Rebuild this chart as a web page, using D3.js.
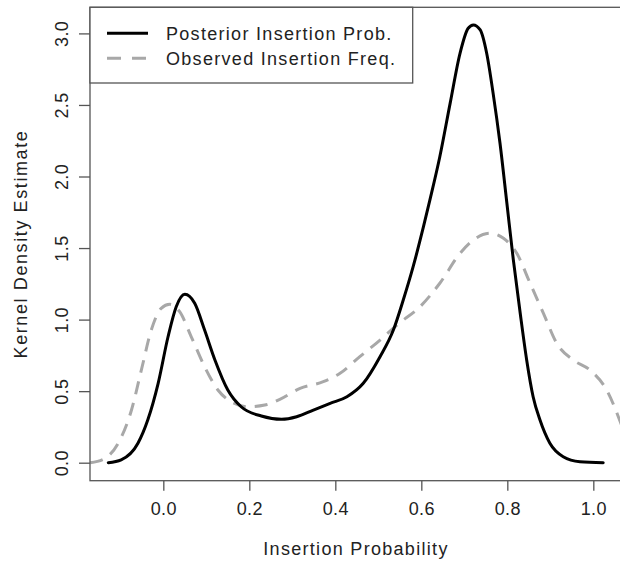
<!DOCTYPE html>
<html>
<head>
<meta charset="utf-8">
<script src="https://cdn.jsdelivr.net/npm/d3@7"></script>
<style>
  html, body { margin: 0; padding: 0; background: #fff; }
  svg { display: block; }
  text { font-family: "Liberation Sans", Arial, Helvetica, sans-serif; }
</style>
</head>
<body>
<svg id="chart" width="620" height="563"></svg>
<script>
// ---- data ----
const seriesNames = ["Posterior Insertion Prob.", "Observed Insertion Freq."];

const posteriorX = [-0.128, -0.098, -0.059, -0.036, -0.012, 0.011, 0.030, 0.050, 0.073, 0.096, 0.120, 0.150, 0.181, 0.228, 0.275, 0.310, 0.349, 0.388, 0.427, 0.465, 0.504, 0.535, 0.558, 0.581, 0.605, 0.620, 0.643, 0.667, 0.690, 0.709, 0.721, 0.737, 0.752, 0.767, 0.783, 0.799, 0.814, 0.830, 0.845, 0.860, 0.876, 0.899, 0.930, 0.969, 1.023];
const posteriorY = [0.000, 0.020, 0.136, 0.300, 0.555, 0.880, 1.090, 1.177, 1.114, 0.927, 0.718, 0.508, 0.391, 0.326, 0.303, 0.321, 0.368, 0.415, 0.461, 0.555, 0.741, 0.927, 1.137, 1.370, 1.649, 1.836, 2.138, 2.511, 2.861, 3.036, 3.059, 3.024, 2.861, 2.581, 2.232, 1.813, 1.417, 1.044, 0.718, 0.461, 0.298, 0.136, 0.042, 0.007, 0.000];

const observedX = [-0.170, -0.136, -0.105, -0.074, -0.051, -0.028, -0.005, 0.015, 0.038, 0.065, 0.096, 0.127, 0.158, 0.197, 0.236, 0.271, 0.318, 0.372, 0.411, 0.457, 0.504, 0.543, 0.597, 0.643, 0.690, 0.721, 0.760, 0.791, 0.822, 0.853, 0.884, 0.915, 0.953, 0.992, 1.031, 1.066];
const observedY = [0.000, 0.030, 0.136, 0.368, 0.648, 0.927, 1.079, 1.107, 1.055, 0.880, 0.671, 0.508, 0.426, 0.391, 0.403, 0.443, 0.520, 0.566, 0.625, 0.741, 0.857, 0.962, 1.090, 1.254, 1.463, 1.556, 1.603, 1.568, 1.463, 1.254, 1.044, 0.834, 0.718, 0.648, 0.508, 0.260];

const xTicks = [0.0, 0.2, 0.4, 0.6, 0.8, 1.0];
const yTicks = [0.0, 0.5, 1.0, 1.5, 2.0, 2.5, 3.0];
const xTitle = "Insertion Probability";
const yTitle = "Kernel Density Estimate";

// ---- layout ----
const plotLeft = 90, plotRight = 622, plotTop = 7.3, plotBottom = 480.7;
const svg = d3.select("#chart");

const x = d3.scaleLinear().domain([-0.1705, 1.0667]).range([plotLeft, plotRight]);
const y = d3.scaleLinear().domain([-0.1258, 3.1824]).range([plotBottom, plotTop]);

const axisColor = "#555";
const textColor = "#222";
const labelSpacing = "1.3px";

// clip
svg.append("defs").append("clipPath").attr("id", "clip")
  .append("rect").attr("x", plotLeft).attr("y", plotTop)
  .attr("width", plotRight - plotLeft).attr("height", plotBottom - plotTop);

const line = d3.line().x(d => x(d[0])).y(d => y(d[1])).curve(d3.curveMonotoneX);

const obsData = observedX.map((v, i) => [v, observedY[i]]);
const postData = posteriorX.map((v, i) => [v, posteriorY[i]]);

const plotG = svg.append("g").attr("clip-path", "url(#clip)");
plotG.append("path").datum(obsData).attr("d", line)
  .attr("fill", "none").attr("stroke", "#a8a8a8").attr("stroke-width", 3)
  .attr("stroke-dasharray", "13,9");
plotG.append("path").datum(postData).attr("d", line)
  .attr("fill", "none").attr("stroke", "#000").attr("stroke-width", 3)
  .attr("stroke-linejoin", "round").attr("stroke-linecap", "round");

// axes
const xAxis = svg.append("g").attr("transform", `translate(0,${plotBottom})`)
  .call(d3.axisBottom(x).tickValues(xTicks).tickSize(10).tickFormat(d3.format(".1f")));
xAxis.select(".domain").remove();
xAxis.selectAll(".tick line").attr("stroke", axisColor).attr("stroke-width", 1.3);
xAxis.selectAll(".tick text").attr("y", 34.8).attr("dy", 0)
  .attr("font-size", 18).attr("fill", textColor)
  .attr("letter-spacing", "0.4px")
  .attr("font-family", "Liberation Sans, Arial, sans-serif");

const yAxis = svg.append("g").attr("transform", `translate(${plotLeft},0)`)
  .call(d3.axisLeft(y).tickValues(yTicks).tickSize(11).tickFormat(d3.format(".1f")));
yAxis.select(".domain").remove();
yAxis.selectAll(".tick line").attr("stroke", axisColor).attr("stroke-width", 1.3);
yAxis.selectAll(".tick text")
  .attr("x", 0).attr("y", 0).attr("dy", 0)
  .attr("transform", "translate(-22.5,0) rotate(-90)")
  .attr("text-anchor", "middle")
  .attr("font-size", 18).attr("fill", textColor)
  .attr("letter-spacing", "0.4px")
  .attr("font-family", "Liberation Sans, Arial, sans-serif");

// box
svg.append("rect").attr("x", plotLeft).attr("y", plotTop)
  .attr("width", plotRight - plotLeft).attr("height", plotBottom - plotTop)
  .attr("fill", "none").attr("stroke", axisColor).attr("stroke-width", 1.3);

// titles
svg.append("text").attr("x", (plotLeft + plotRight) / 2).attr("y", 555)
  .attr("text-anchor", "middle").attr("font-size", 18).attr("fill", textColor)
  .attr("letter-spacing", labelSpacing)
  .text(xTitle);
svg.append("text").attr("transform", `translate(27,${(plotTop + plotBottom) / 2}) rotate(-90)`)
  .attr("text-anchor", "middle").attr("font-size", 18).attr("fill", textColor)
  .attr("letter-spacing", "1.6px")
  .text(yTitle);

// legend
const legend = svg.append("g");
legend.append("rect").attr("x", plotLeft).attr("y", plotTop)
  .attr("width", 412.7 - plotLeft).attr("height", 83 - plotTop)
  .attr("fill", "#fff").attr("stroke", axisColor).attr("stroke-width", 1.3);
const legendRows = [
  { name: seriesNames[0], color: "#000", dash: null, yy: 33.3 },
  { name: seriesNames[1], color: "#a8a8a8", dash: "14,11", yy: 58.3 }
];
legendRows.forEach(r => {
  const ln = legend.append("line").attr("x1", 107).attr("x2", 148)
    .attr("y1", r.yy).attr("y2", r.yy)
    .attr("stroke", r.color).attr("stroke-width", 3);
  if (r.dash) ln.attr("stroke-dasharray", r.dash);
  legend.append("text").attr("x", 166).attr("y", r.yy + 6.3)
    .attr("font-size", 18).attr("fill", textColor)
    .attr("letter-spacing", labelSpacing).text(r.name);
});
</script>
</body>
</html>
